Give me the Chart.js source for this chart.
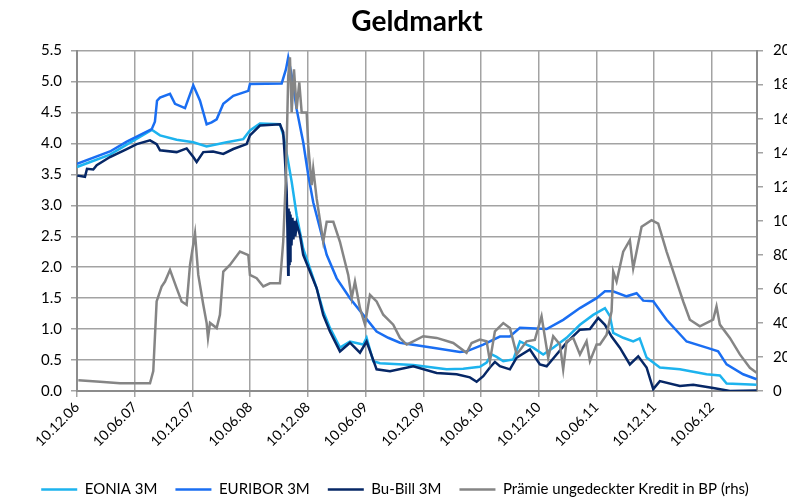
<!DOCTYPE html>
<html><head><meta charset="utf-8">
<script src="https://cdn.jsdelivr.net/npm/chart.js@4/dist/chart.umd.min.js"></script>
<style>
html,body{margin:0;padding:0;background:#fff;overflow:hidden;width:787px;height:500px}
#wrap{width:787px;height:500px;overflow:hidden;position:relative}
canvas{display:block}
</style></head>
<body><div id="wrap"><canvas id="c" width="790" height="500"></canvas></div>
<script>
const chartTitle = 'Geldmarkt';
const seriesNames = ['EONIA 3M', 'EURIBOR 3M', 'Bu-Bill 3M', 'Prämie ungedeckter Kredit in BP (rhs)'];
// x values: months after 10.12.06
const xTickLabels = ['10.12.06','10.06.07','10.12.07','10.06.08','10.12.08','10.06.09','10.12.09','10.06.10','10.12.10','10.06.11','10.12.11','10.06.12'];
const leftTicks = [0, 5.5, 0.5];
const rightTicks = [0, 200, 20];

const eoniaMonths = [0,3.43,5.17,7.77,8.63,10.36,12.09,13.48,15.56,17.29,17.98,19.02,21.1,21.5,21.96,22.32,22.84,23.18,23.52,24.22,24.92,25.6,26.3,27.34,28.38,29.76,30.11,30.8,31.5,34.96,38.43,40.16,41.89,42.59,43.11,43.63,44.32,45.36,46.05,46.74,47.43,48.47,49.51,50.9,52.29,53.67,54.89,55.41,55.75,56.79,57.83,58.5,59.22,60.6,62.68,65.46,66.84,67.54,70.66];
const eoniaValues = [3.62,3.82,3.98,4.22,4.13,4.06,4.02,3.95,4.02,4.07,4.21,4.32,4.31,4.1,3.70,3.38,2.84,2.57,2.30,1.98,1.66,1.29,1.02,0.70,0.80,0.75,0.86,0.48,0.45,0.42,0.35,0.36,0.39,0.46,0.59,0.55,0.48,0.51,0.80,0.75,0.70,0.59,0.70,0.86,1.07,1.23,1.34,1.21,0.94,0.86,0.80,0.85,0.54,0.38,0.35,0.27,0.25,0.12,0.10];

const euriborMonths = [0,3.43,5.17,7.77,8.1,8.32,8.63,9.67,10.19,11.23,12.09,12.79,13.48,14.0,14.52,15.21,16.25,17.81,17.98,21.28,21.73,21.96,22.32,22.84,23.52,24.04,24.56,25.26,25.96,27.0,28.38,29.76,31.15,32.36,33.58,37.0,39.81,40.5,42.24,43.97,45.0,46.05,48.83,50.55,52.29,54.02,54.89,55.72,57.14,58.18,58.87,59.91,61.3,63.38,65.46,66.66,67.54,69.26,70.66];
const euriborValues = [3.67,3.87,4.03,4.23,4.35,4.69,4.74,4.80,4.64,4.57,4.94,4.69,4.31,4.34,4.39,4.64,4.77,4.85,4.96,4.97,5.2,5.39,5.10,4.55,4.02,3.49,3.05,2.63,2.20,1.82,1.50,1.23,0.96,0.86,0.78,0.70,0.63,0.64,0.75,0.88,0.88,1.02,1.00,1.15,1.34,1.50,1.61,1.61,1.53,1.58,1.46,1.45,1.15,0.80,0.70,0.64,0.43,0.27,0.19];

const bubillMonths = [0.03,0.83,1.04,1.69,2.05,3.43,5.17,6.21,7.59,8.28,8.63,10.36,11.4,12.09,12.44,13.13,14.14,15.21,16.25,17.64,17.98,19.02,21.1,21.44,21.62,21.8,21.88,21.96,22.0,22.05,22.1,22.15,22.2,22.3,22.4,22.5,22.6,22.7,22.84,23.18,23.52,24.22,24.92,25.6,26.3,27.34,28.38,29.42,30.11,31.15,32.54,34.96,37.39,39.47,40.85,41.55,42.24,42.93,43.45,43.97,45.01,45.71,47.09,48.13,48.83,49.86,50.9,52.29,53.33,54.19,54.89,55.58,56.44,57.48,58.35,59.22,59.91,60.6,62.68,64.07,66.15,67.88,70.66];
const bubillValues = [3.48,3.46,3.59,3.58,3.65,3.78,3.91,3.99,4.05,3.99,3.89,3.86,3.92,3.78,3.70,3.86,3.87,3.83,3.91,3.99,4.13,4.29,4.31,4.18,3.75,3.22,2.6,1.88,2.95,2.05,2.9,2.1,2.85,2.35,2.8,2.45,2.75,2.5,2.7,2.52,2.20,1.93,1.66,1.23,0.96,0.64,0.78,0.62,0.80,0.35,0.32,0.40,0.29,0.27,0.22,0.15,0.24,0.38,0.47,0.40,0.35,0.54,0.67,0.43,0.40,0.59,0.78,0.99,1.0,1.18,1.07,0.88,0.70,0.43,0.56,0.38,0.03,0.16,0.08,0.10,0.05,0.0,0.01];

const premiumMonths = [0.14,2.4,4.47,7.59,7.93,8.28,8.8,9.15,9.67,10.36,10.88,11.4,11.75,12.27,12.61,13.13,13.48,13.62,13.83,14.52,14.86,15.21,15.9,16.94,17.81,17.98,18.68,19.37,20.06,21.1,21.44,21.73,21.96,22.14,22.32,22.56,22.84,23.11,23.36,23.88,24.04,24.4,24.56,24.92,25.6,25.96,26.65,27.34,27.68,28.2,28.56,28.9,29.42,29.94,30.46,31.15,31.84,32.88,33.58,34.27,34.96,36.0,37.39,39.12,40.5,41.03,41.89,42.59,42.93,43.45,44.32,45.01,45.71,46.75,47.6,48.3,48.99,49.51,50.21,50.55,50.9,51.59,52.29,52.98,53.33,54.02,54.37,55.06,55.58,55.75,56.1,56.79,57.48,57.83,58.7,59.74,60.43,61.3,62.34,63.03,63.72,64.76,66.14,66.49,66.84,67.88,68.92,69.96,70.66];
const premiumValues = [6.3,5.5,4.5,4.5,11.7,52.6,61.4,64.3,71.2,60.4,52.6,50.7,74.1,92.6,68.2,50.7,39.9,31.2,40,37,44.8,70.2,74.1,81.9,79.9,68.2,66.3,61.4,63.3,63.3,87.7,127,185,196,163.7,189,165.7,181.3,163.7,163.7,144.3,120.9,130.6,113,87.7,99.4,99.4,87.7,79.9,68.2,54.6,64.3,48.7,39,56.5,52.6,44.8,39,31.2,27.3,29.2,32.2,31.2,28.2,22.4,28.2,30.2,29.2,17.5,35.1,39.9,37,21.5,29.2,30,43.9,19.5,32.2,27.3,12.7,29.2,31.2,21.5,29.2,17.5,27.3,27.3,33.1,46.8,70.2,64.3,81.9,88.7,72.1,96.5,100.4,98.4,81.9,64.3,52.6,41.9,38,41.9,49.7,39,31.2,21.5,13.6,10.7];

const pts = (xs, ys) => xs.map((x, i) => ({x: x, y: ys[i]}));
const FONT = 'Lato';
const gridColor = '#a3a3a3';
const axisColor = '#8c8c8c';
const W = 790;

const ds = (label, xs, ys, color, axis, order) => ({
  label, data: pts(xs, ys), borderColor: color, backgroundColor: color,
  borderWidth: 2.5, pointRadius: 0, tension: 0, yAxisID: axis, order, fill: false
});

new Chart(document.getElementById('c'), {
  type: 'line',
  data: {
    datasets: [
      ds(seriesNames[0], eoniaMonths, eoniaValues, '#1db3ee', 'y', 4),
      ds(seriesNames[1], euriborMonths, euriborValues, '#1a6ef2', 'y', 3),
      ds(seriesNames[2], bubillMonths, bubillValues, '#062766', 'y', 2),
      ds(seriesNames[3], premiumMonths, premiumValues, '#858585', 'y1', 1)
    ]
  },
  options: {
    responsive: false,
    animation: false,
    events: [],
    layout: {padding: {top: 0, bottom: -7, left: 0, right: 0}},
    plugins: {
      title: {display: true, text: chartTitle, fullSize: false, color: '#000',
        font: {family: FONT, size: 28, weight: 'bold', lineHeight: 1.2}, padding: {top: 5, bottom: 12}},
      legend: {position: 'bottom', align: 'center',
        labels: {usePointStyle: true, pointStyle: 'line', pointStyleWidth: 36, color: '#000',
          font: {family: FONT, size: 15}, padding: 18,
          sort: (a, b) => a.datasetIndex - b.datasetIndex}},
      tooltip: {enabled: false}
    },
    scales: {
      x: {type: 'linear', position: 'bottom', min: 0, max: 70.7,
        afterFit: s => { s.height = 73; },
        grid: {color: gridColor, lineWidth: 1.5, tickLength: 6, drawTicks: true},
        border: {display: true, color: axisColor, width: 2},
        ticks: {stepSize: 6, includeBounds: false, autoSkip: false, maxRotation: 45, minRotation: 45,
          color: '#000', font: {family: FONT, size: 14}, padding: 2,
          callback: v => xTickLabels[Math.round(v / 6)]}},
      y: {position: 'left', min: leftTicks[0], max: leftTicks[1],
        afterFit: s => { s.width = 77; },
        grid: {color: gridColor, lineWidth: 1.5, tickLength: 6},
        border: {display: true, color: axisColor, width: 2},
        ticks: {stepSize: leftTicks[2], color: '#000', font: {family: FONT, size: 15}, padding: 9,
          callback: v => v.toFixed(1)}},
      y1: {position: 'right', min: rightTicks[0], max: rightTicks[1],
        afterFit: s => { s.width = W - 757; },
        grid: {drawOnChartArea: false, color: gridColor, lineWidth: 1.5, tickLength: 6},
        border: {display: true, color: axisColor, width: 2},
        ticks: {stepSize: rightTicks[2], color: '#000', font: {family: FONT, size: 15}, padding: 10}}
    }
  }
});
</script>
</body></html>
